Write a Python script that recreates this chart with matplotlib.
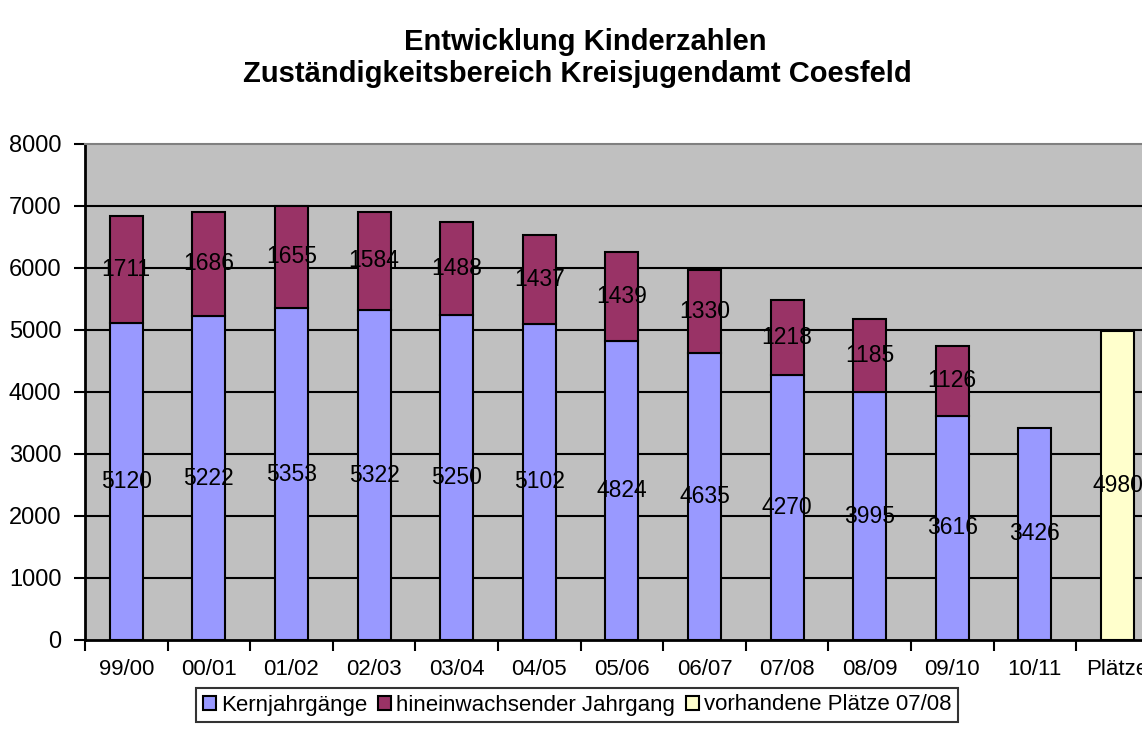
import matplotlib
matplotlib.use("Agg")
import matplotlib.pyplot as plt
from matplotlib.patches import Patch
import numpy as np

categories = ["99/00", "00/01", "01/02", "02/03", "03/04", "04/05", "05/06",
              "06/07", "07/08", "08/09", "09/10", "10/11", "Plätze"]
kern = [5120, 5222, 5353, 5322, 5250, 5102, 4824, 4635, 4270, 3995, 3616, 3426, 0]
hinein = [1711, 1686, 1655, 1584, 1488, 1437, 1439, 1330, 1218, 1185, 1126, 0, 0]
plaetze = [0, 0, 0, 0, 0, 0, 0, 0, 0, 0, 0, 0, 4980]
series_names = ["Kernjahrgänge", "hineinwachsender Jahrgang", "vorhandene Plätze 07/08"]
colors = ["#9999FF", "#993366", "#FFFFCC"]
title_lines = ["Entwicklung Kinderzahlen",
               "Zuständigkeitsbereich Kreisjugendamt Coesfeld"]

plt.rcParams['font.family'] = ['Liberation Sans', 'DejaVu Sans']

W, H = 1142, 751
fig = plt.figure(figsize=(W / 100, H / 100), dpi=100)
ax_left, ax_bottom = 85 / W, (H - 640) / H
ax_w, ax_h = (13 * 82.6) / W, 496 / H
ax = fig.add_axes([ax_left, ax_bottom, ax_w, ax_h])
ax.set_facecolor("#C0C0C0")

x = np.arange(len(categories))
bw = 0.40
kern_a = np.array(kern)
hin_a = np.array(hinein)
pl_a = np.array(plaetze)

b1 = ax.bar(x, kern_a, bw, color=colors[0], edgecolor="black", linewidth=1.5, zorder=3)
b2 = ax.bar(x, hin_a, bw, bottom=kern_a, color=colors[1], edgecolor="black",
            linewidth=1.5, zorder=3)
b3 = ax.bar(x, pl_a, bw, color=colors[2], edgecolor="black", linewidth=1.5, zorder=3)
for bars, vals in ((b1, kern_a), (b2, hin_a), (b3, pl_a)):
    for r, v in zip(bars, vals):
        if v == 0:
            r.set_visible(False)

fs = 16
for i in range(len(categories)):
    if kern_a[i]:
        ax.text(x[i], kern_a[i] / 2, str(kern_a[i]), ha="center", va="center",
                fontsize=fs + 0.5, zorder=5)
    if hin_a[i]:
        ax.text(x[i], kern_a[i] + hin_a[i] / 2, str(hin_a[i]), ha="center",
                va="center", fontsize=fs + 0.5, zorder=5)
    if pl_a[i]:
        ax.text(x[i], pl_a[i] / 2, str(pl_a[i]), ha="center", va="center",
                fontsize=fs + 0.5, zorder=5)

ax.set_xlim(-0.5, len(categories) - 0.5)
ax.set_ylim(0, 8000)
ax.set_yticks(np.arange(0, 8001, 1000))
ax.tick_params(axis="y", labelsize=17, length=8, width=1.5, direction="out", pad=9)
for yv in range(1000, 8000, 1000):
    ax.axhline(yv, color="black", linewidth=1.5, zorder=1)

ax.set_xticks(x)
ax.set_xticklabels(categories, fontsize=fs)
ax.tick_params(axis="x", which="major", length=0, pad=14)
ax.set_xticks(np.arange(-0.5, len(categories), 1.0), minor=True)
ax.tick_params(axis="x", which="minor", length=8, width=1.5, direction="out")

for s in ("left", "bottom"):
    ax.spines[s].set_color("black")
    ax.spines[s].set_linewidth(2)
ax.spines["top"].set_color("#808080")
ax.spines["top"].set_linewidth(1.5)
ax.spines["right"].set_color("#808080")

fig.text(585 / W, 1 - 50 / H, title_lines[0], ha="center", va="baseline",
         fontsize=21, fontweight="bold")
fig.text(577 / W, 1 - 82 / H, title_lines[1], ha="center", va="baseline",
         fontsize=21, fontweight="bold")

handles = [Patch(facecolor=c, edgecolor="black", linewidth=1.5) for c in colors]
leg = fig.legend(handles=handles, labels=series_names, loc="center",
                 bbox_to_anchor=(577 / W, 1 - 705 / H), ncol=3, fontsize=fs,
                 frameon=True, fancybox=False, edgecolor="black",
                 handlelength=0.6, handleheight=0.6, handletextpad=0.2,
                 columnspacing=0.5, borderpad=0.3, borderaxespad=0)
leg.get_frame().set_linewidth(1.5)

fig.savefig("out.png", dpi=100)
